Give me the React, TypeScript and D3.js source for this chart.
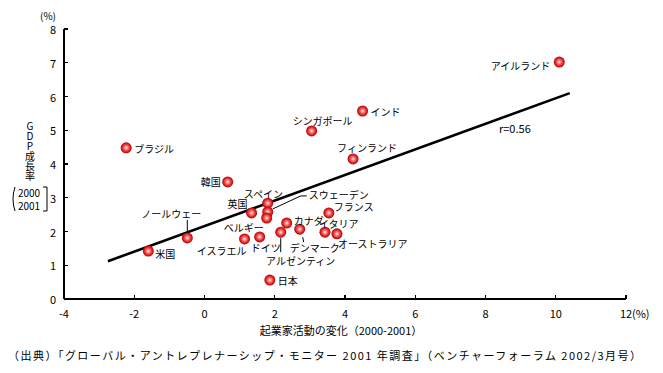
import React from "react";
import * as d3 from "d3";

/* DATA */
const countries = [
  "アイルランド", "インド", "シンガポール", "フィンランド", "韓国", "ブラジル", "米国",
  "ノールウェー", "スペイン", "スウェーデン", "ベルギー", "英国", "カナダ", "アルゼンティン",
  "デンマーク", "イタリア", "フランス", "オーストラリア", "イスラエル", "ドイツ", "日本",
];
const entrepreneurChange = [
  10.1, 4.5, 3.05, 4.23, 0.66, -2.23, -1.6, -0.49, 1.8, 1.8, 1.77, 1.34, 2.34, 2.17, 2.71,
  3.43, 3.54, 3.77, 1.14, 1.57, 1.86,
];
const gdpGrowth = [
  7.02, 5.57, 4.98, 4.15, 3.47, 4.48, 1.42, 1.81, 2.84, 2.58, 2.4, 2.55, 2.25, 1.98, 2.07,
  1.98, 2.55, 1.93, 1.78, 1.84, 0.56,
];
const trendX = [-2.75, 10.4];
const trendY = [1.12, 6.1];
const xTicks = [-4, -2, 0, 2, 4, 6, 8, 10, 12];
const yTicks = [0, 1, 2, 3, 4, 5, 6, 7, 8];
const rLabel = "r=0.56";

// label placement relative to the marker: dx, dy, anchor, optional leader line
const labelPos: [number, number, string, number[][]?][] = [
  [-9, 3, "end"],
  [8, 0, "start"],
  [-19, -10, "start"],
  [-16, -11, "start"],
  [-7, 0, "end"],
  [8, 1, "start"],
  [7, 2, "start"],
  [-16, -24, "middle", [[0, -18], [0, -6]]],
  [-24, -10, "start"],
  [41, -17, "start", [[5, -3], [33, -16], [39, -16]]],
  [-3, 9, "end"],
  [-4, -9, "end"],
  [7, -3, "start"],
  [20, 28, "middle", [[0, 6], [0, 20]]],
  [-10, 18, "start", [[3, 8], [4, 13]]],
  [-6, -9, "start"],
  [5, -6, "start"],
  [1, 10, "start"],
  [2, 12, "end"],
  [-9, 11, "start"],
  [8, 0, "start"],
];

const font = "'Noto Sans CJK JP', 'Noto Sans', sans-serif";

export default function App() {
  const x = d3.scaleLinear().domain([-4, 12]).range([64, 626]);
  const y = d3.scaleLinear().domain([0, 8]).range([299, 29]);
  const trend = d3
    .line<number>()
    .x((d) => x(d))
    .y((_d, i) => y(trendY[i]));

  return (
    <svg
      width={663}
      height={373}
      style={{ position: "absolute", left: 0, top: 0, background: "#fff" }}
      fontFamily={font}
    >
      <defs>
        <radialGradient id="ball" cx="50%" cy="50%" r="50%">
          <stop offset="0" stopColor="#fff0f0" />
          <stop offset="0.35" stopColor="#f47a7a" />
          <stop offset="0.75" stopColor="#dd1c1c" />
          <stop offset="1" stopColor="#b30000" />
        </radialGradient>
      </defs>

      {/* axes */}
      <g stroke="#000" strokeWidth={1.3} shapeRendering="crispEdges">
        <line x1={x(-4)} x2={x(-4)} y1={y(8)} y2={y(0)} />
        <line x1={x(-4)} x2={x(12)} y1={y(0)} y2={y(0)} />
        {yTicks.map((t) => (
          <line key={"yt" + t} x1={x(-4)} x2={x(-4) + 4} y1={y(t)} y2={y(t)} />
        ))}
        {xTicks.map((t) => (
          <line key={"xt" + t} x1={x(t)} x2={x(t)} y1={y(0)} y2={y(0) - 4} />
        ))}
      </g>
      <g fontSize={11} fill="#000">
        {yTicks.map((t) => (
          <text key={"yl" + t} x={x(-4) - 8} y={y(t)} textAnchor="end" dominantBaseline="central">
            {t}
          </text>
        ))}
        {xTicks.map((t) => (
          <text key={"xl" + t} x={x(t)} y={y(0) + 14} textAnchor="middle" dominantBaseline="central">
            {t}
          </text>
        ))}
        <text x={x(12) + 6} y={y(0) + 14} dominantBaseline="central">(%)</text>
        <text x={48} y={15} fontSize={10} textAnchor="middle" dominantBaseline="central">(%)</text>
        <text x={341} y={330} textAnchor="middle" dominantBaseline="central">
          起業家活動の変化（2000-2001）
        </text>
        <text
          x={8}
          y={355}
          dominantBaseline="central"
          fontSize={11}
          textLength={633}
          lengthAdjust="spacing"
        >
          （出典）「グローバル・アントレプレナーシップ・モニター 2001 年調査」（ベンチャーフォーラム 2002/3月号）
        </text>
      </g>

      {/* y title */}
      <g fill="#000">
        <text
          x={30}
          y={121}
          fontSize={10}
          style={{ writingMode: "vertical-rl", textOrientation: "upright" } as any}
        >
          GDP成長率
        </text>
        <text x={29} y={192.5} fontSize={10} textAnchor="middle" dominantBaseline="central">2000</text>
        <text x={29} y={205.5} fontSize={10} textAnchor="middle" dominantBaseline="central">2001</text>
        <g fill="none" stroke="#000" strokeWidth={1}>
          <path d="M15,187 Q11,199 15,211" />
          <path d="M43,187 L47,187 L47,211 L43,211" />
        </g>
      </g>

      {/* trend line */}
      <path d={trend(trendX) || ""} fill="none" stroke="#000" strokeWidth={2.6} />
      <text x={499} y={128} fontSize={11} dominantBaseline="central">
        {rLabel}
      </text>

      {/* leader lines */}
      <g stroke="#000" strokeWidth={1} fill="none">
        {countries.map((c, i) => {
          const lp = labelPos[i];
          if (!lp[3]) return null;
          const px = x(entrepreneurChange[i]);
          const py = y(gdpGrowth[i]);
          const d = d3.line()(lp[3].map((p) => [px + p[0], py + p[1]] as [number, number]));
          return <path key={"ld" + c} d={d || ""} />;
        })}
      </g>

      {/* markers */}
      {countries.map((c, i) => (
        <circle
          key={"pt" + c}
          cx={x(entrepreneurChange[i])}
          cy={y(gdpGrowth[i])}
          r={5.5}
          fill="url(#ball)"
        />
      ))}

      {/* labels */}
      <g fontSize={10} fill="#000">
        {countries.map((c, i) => {
          const lp = labelPos[i];
          return (
            <text
              key={"lb" + c}
              x={x(entrepreneurChange[i]) + lp[0]}
              y={y(gdpGrowth[i]) + lp[1]}
              textAnchor={lp[2]}
              dominantBaseline="central"
            >
              {c}
            </text>
          );
        })}
      </g>
    </svg>
  );
}
